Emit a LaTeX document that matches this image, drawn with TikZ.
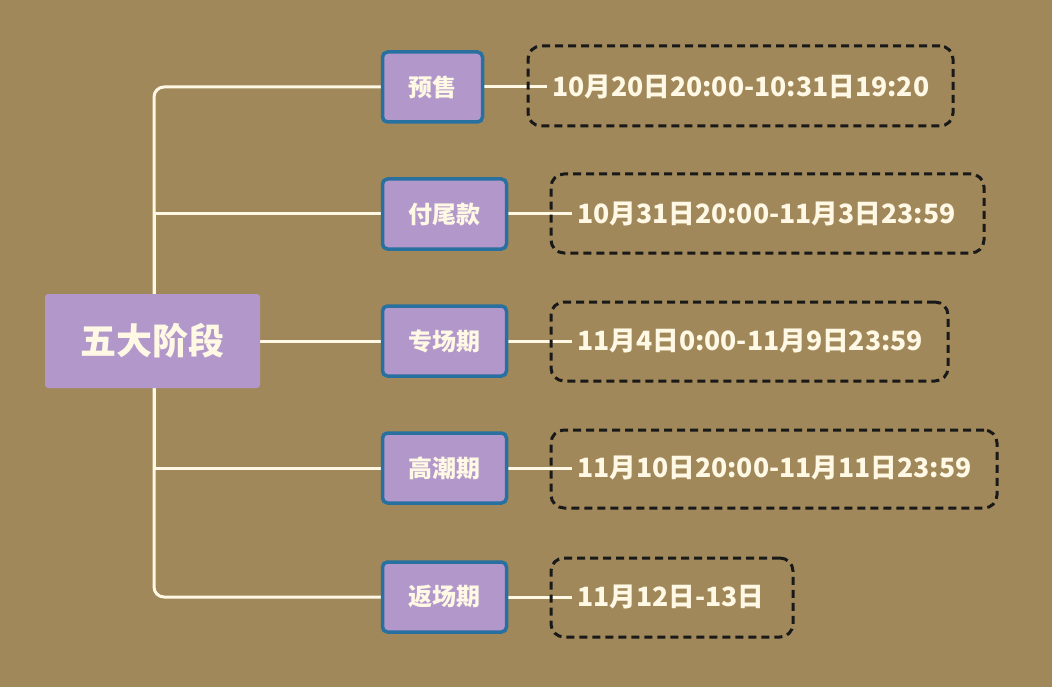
\documentclass[tikz,border=0pt]{standalone}
\usepackage{fontspec}
\setmainfont{Noto Sans CJK SC}
\definecolor{bg}{RGB}{160,136,90}
\definecolor{lilac}{RGB}{178,152,202}
\definecolor{edgeblue}{RGB}{40,112,160}
\definecolor{cream}{RGB}{255,248,228}
\pgfdeclarelayer{back}
\pgfdeclarelayer{bgl}
\pgfsetlayers{back,bgl,main}
\tikzset{
  rootbox/.style={fill=lilac, rounded corners=3pt, minimum width=215pt, minimum height=94pt, inner sep=0pt, text=cream, font=\fontsize{36}{42}\selectfont\bfseries},
  stagebox/.style={fill=lilac, draw=edgeblue, line width=3.5pt, rounded corners=5pt, minimum height=70pt, inner sep=0pt, text=cream, font=\fontsize{24}{28}\selectfont\bfseries},
  datebox/.style={draw=black!90, dashed, dash pattern=on 8pt off 5pt, line width=3pt, rounded corners=13pt, inner sep=0pt},
  datetext/.style={anchor=west, inner sep=5pt, text=cream, font=\fontsize{26.6}{30}\selectfont\bfseries},
  link/.style={draw=cream, line width=3pt},
}
\begin{document}
\begin{tikzpicture}[x=1pt,y=-1pt]
\begin{pgfonlayer}{back}
\fill[bg] (0,0) rectangle (1052,687);
\end{pgfonlayer}
\useasboundingbox (0,0) rectangle (1052,687);
\node[rootbox] (root) at (152.5,341) {五大阶段};
\node[stagebox, minimum width=100pt] (b1) at (432.5,87) {预售};
\node[stagebox, minimum width=124pt] (b2) at (444.5,214) {付尾款};
\node[stagebox, minimum width=124pt] (b3) at (444.5,341) {专场期};
\node[stagebox, minimum width=124pt] (b4) at (444.5,468) {高潮期};
\node[stagebox, minimum width=124pt] (b5) at (444.5,597) {返场期};
\node[datebox, minimum width=425pt, minimum height=80pt] (d1) at (740.5,86) {};
\node[datebox, minimum width=433pt, minimum height=79pt] (d2) at (767.5,213.5) {};
\node[datebox, minimum width=397pt, minimum height=79pt] (d3) at (749.5,341.5) {};
\node[datebox, minimum width=446pt, minimum height=78pt] (d4) at (774,469) {};
\node[datebox, minimum width=242pt, minimum height=79pt] (d5) at (672,597.5) {};
\node[datetext] (t1) at (547,87) {10月20日20:00-10:31日19:20};
\node[datetext] (t2) at (572,214) {10月31日20:00-11月3日23:59};
\node[datetext] (t3) at (572,341) {11月4日0:00-11月9日23:59};
\node[datetext] (t4) at (572,468) {11月10日20:00-11月11日23:59};
\node[datetext] (t5) at (572,597) {11月12日-13日};
\coordinate (trunk) at (154,341);
\begin{pgfonlayer}{bgl}
\draw[link, rounded corners=10pt] (trunk) |- (b1.west);
\draw[link, rounded corners=10pt] (trunk) |- (b5.west);
\draw[link] (trunk) |- (b2.west);
\draw[link] (trunk) |- (b4.west);
\draw[link] (root.east) -- (b3.west);
\draw[link] (b1.east) -- (t1.west);
\draw[link] (b2.east) -- (t2.west);
\draw[link] (b3.east) -- (t3.west);
\draw[link] (b4.east) -- (t4.west);
\draw[link] (b5.east) -- (t5.west);
\end{pgfonlayer}
\end{tikzpicture}
\end{document}
